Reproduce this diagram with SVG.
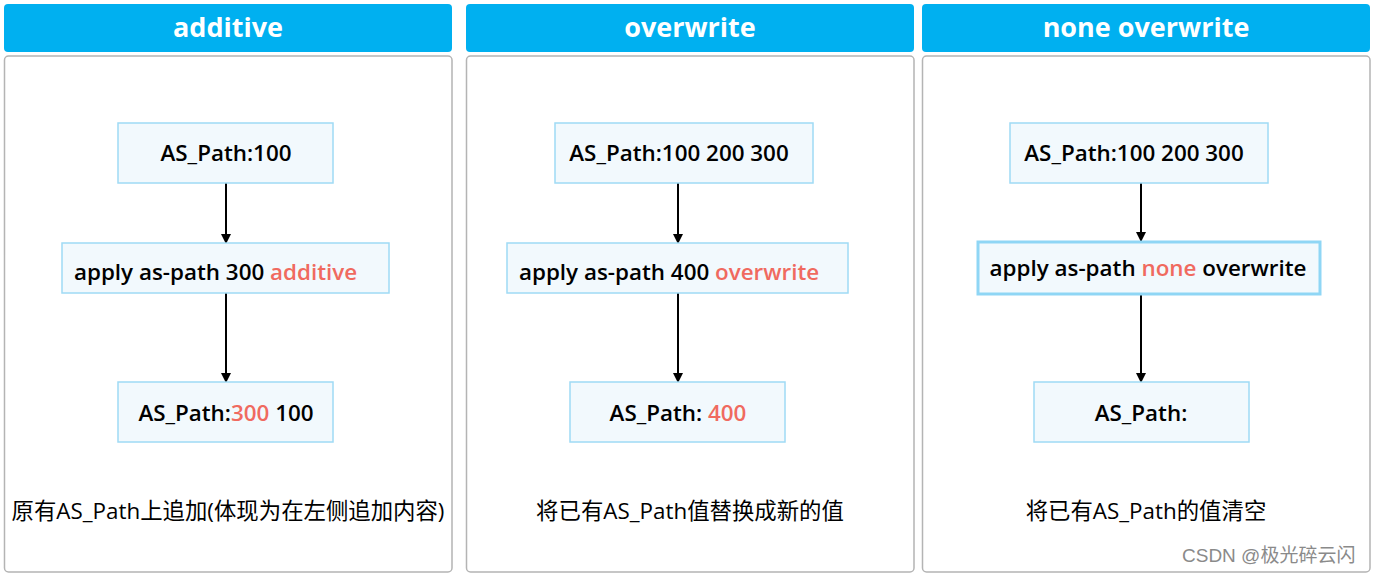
<svg xmlns="http://www.w3.org/2000/svg" width="1377" height="578" viewBox="0 0 1377 578">
<style>
.hdr{fill:#00b0f0;}
.hdrt{fill:#fff;font-family:"Open Sans","Noto Sans",sans-serif;font-weight:700;font-size:27px;text-anchor:middle;}
.panel{fill:#fff;stroke:#b4b4b4;stroke-width:1.5;}
.node{fill:#f2f9fd;stroke:#9fdaf5;stroke-width:1.5;}
.node2{fill:#f2f9fd;stroke:#8fd6f5;stroke-width:3;}
.nt{font-family:"Open Sans","Noto Sans",sans-serif;font-weight:600;font-size:22.4px;fill:#000;text-anchor:middle;}
.red{fill:#f06a5f;}
.cap{font-family:"Open Sans","Noto Sans CJK SC",sans-serif;font-size:22.4px;fill:#000;text-anchor:middle;}
.wm{font-family:"Liberation Sans","Noto Sans CJK SC",sans-serif;font-size:19px;fill:#8a8a8a;}
.edge{stroke:#000;stroke-width:2;fill:none;}
</style>
<defs>
<marker id="ah" markerWidth="10" markerHeight="10" refX="9" refY="5" orient="auto" markerUnits="userSpaceOnUse">
<path d="M0,0 L10,5 L0,10 z" fill="#000"/>
</marker>
</defs>
<g id="panel-additive">
<rect class="hdr" x="4" y="4" width="448" height="48" rx="4"/>
<text class="hdrt" x="228" y="37">additive</text>
<rect class="panel" x="4.5" y="56" width="447.5" height="516" rx="4"/>
<text class="cap" x="228" y="519">原有AS_Path上追加(体现为在左侧追加内容)</text>
</g>
<g id="panel-overwrite">
<rect class="hdr" x="466" y="4" width="448" height="48" rx="4"/>
<text class="hdrt" x="690" y="37">overwrite</text>
<rect class="panel" x="466.5" y="56" width="447.5" height="516" rx="4"/>
<text class="cap" x="690" y="519">将已有AS_Path值替换成新的值</text>
</g>
<g id="panel-none">
<rect class="hdr" x="922" y="4" width="448" height="48" rx="4"/>
<text class="hdrt" x="1146" y="37">none overwrite</text>
<rect class="panel" x="922.5" y="56" width="447.5" height="516" rx="4"/>
<text class="cap" x="1146" y="519">将已有AS_Path的值清空</text>
<text class="wm" x="1182" y="562">CSDN @极光碎云闪</text>
</g>
<g id="connectors">
<line class="edge" x1="226" y1="183" x2="226" y2="243" marker-end="url(#ah)"/>
<line class="edge" x1="226" y1="293" x2="226" y2="382" marker-end="url(#ah)"/>
<line class="edge" x1="678" y1="183" x2="678" y2="243" marker-end="url(#ah)"/>
<line class="edge" x1="678" y1="293" x2="678" y2="382" marker-end="url(#ah)"/>
<line class="edge" x1="1141" y1="183" x2="1141" y2="241" marker-end="url(#ah)"/>
<line class="edge" x1="1141" y1="295" x2="1141" y2="382" marker-end="url(#ah)"/>
</g>
<g id="n1a"><rect class="node" x="118" y="123" width="215" height="60"/><text class="nt" x="226" y="161">AS_Path:100</text></g>
<g id="n1b"><rect class="node" x="62" y="243" width="327" height="50"/><text class="nt" x="74" y="280" style="text-anchor:start">apply as-path 300 <tspan class="red">additive</tspan></text></g>
<g id="n1c"><rect class="node" x="118" y="382" width="215" height="60"/><text class="nt" x="226" y="421">AS_Path:<tspan class="red">300</tspan> 100</text></g>
<g id="n2a"><rect class="node" x="555" y="123" width="258" height="60"/><text class="nt" x="679" y="161">AS_Path:100 200 300</text></g>
<g id="n2b"><rect class="node" x="507" y="243" width="341" height="50"/><text class="nt" x="519" y="280" style="text-anchor:start">apply as-path 400 <tspan class="red">overwrite</tspan></text></g>
<g id="n2c"><rect class="node" x="570" y="382" width="215" height="60"/><text class="nt" x="678" y="421">AS_Path: <tspan class="red">400</tspan></text></g>
<g id="n3a"><rect class="node" x="1010" y="123" width="258" height="60"/><text class="nt" x="1134" y="161">AS_Path:100 200 300</text></g>
<g id="n3b"><rect class="node2" x="978" y="242" width="342" height="52"/><text class="nt" x="1148" y="276">apply as-path <tspan class="red">none</tspan> overwrite</text></g>
<g id="n3c"><rect class="node" x="1034" y="382" width="215" height="60"/><text class="nt" x="1141" y="421">AS_Path:</text></g>
</svg>
